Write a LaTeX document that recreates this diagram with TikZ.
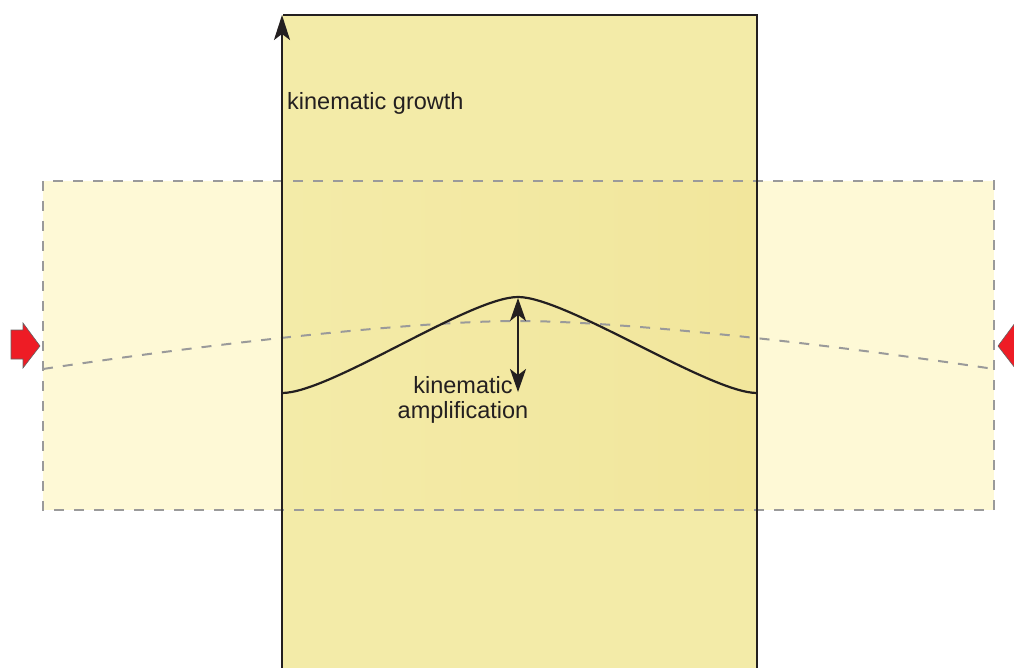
\documentclass[tikz,border=0pt]{standalone}
\usepackage{fontspec}
\setmainfont{Liberation Sans}
\usetikzlibrary{arrows.meta}
\definecolor{vfill}{HTML}{F3EBA8}
\definecolor{hfill}{HTML}{FEF9D6}
\definecolor{ovl}{HTML}{F3EBA8}
\definecolor{ovr}{HTML}{F2E69C}
\definecolor{ink}{HTML}{231F20}
\definecolor{dgray}{HTML}{9A9A9A}
\definecolor{redarrow}{HTML}{EE1C25}
\tikzset{
  edge/.style={draw=ink, line width=2.2pt},
  dashline/.style={draw=dgray, line width=2pt, dash pattern=on 10pt off 10pt},
  lbl/.style={font=\fontsize{23.5}{26}\selectfont, text=ink, inner sep=0pt},
  bigtip/.style={-{Stealth[length=25pt,width=16pt,inset=6pt]}},
  ampt/.style={{Stealth[length=23pt,width=16pt,inset=6pt]}-{Stealth[length=23pt,width=16pt,inset=6pt]}},
  redarr/.style={fill=redarrow, draw=ink!70, line width=0.6pt, line join=miter},
}
\begin{document}
\begin{tikzpicture}[x=1pt,y=-1pt]
\useasboundingbox (0,0) rectangle (1014,668);
% horizontal (dashed) block
\fill[hfill] (43,181) rectangle (994,510);
% vertical block
\fill[vfill] (282,15) rectangle (757,668);
\shade[left color=ovl, right color=ovr] (283,181) rectangle (756,510);
% dashed outline of horizontal block
\draw[dashline] (43,181) rectangle (994,510);
% dashed initial surface
\draw[dashline] (43,369) .. controls (250,338) and (430,321) .. (518,321)
  .. controls (606,321) and (786,338) .. (994,369);
% vertical block edges
\coordinate (bl) at (282,668);
\coordinate (tl) at (282,15);
\coordinate (tr) at (757,15);
\coordinate (br) at (757,668);
\draw[edge, bigtip] (bl) -- (tl);
\draw[edge] (283,15) -- (tr) -- (br);
% folded surface
\draw[edge] (282,393) .. controls (330,393) and (470,297) .. (518,297)
  .. controls (566,297) and (710,393) .. (757,393);
% amplification arrow
\coordinate (ampTop) at (518,298);
\coordinate (ampBot) at (518,392);
\draw[edge, ampt] (ampTop) -- (ampBot);
% labels
\node[lbl, anchor=west] (growth) at (287,103) {kinematic growth};
\node[lbl, align=center] (amp) at (463,400) {kinematic\\[-1pt]amplification};
% red compression arrows
\draw[redarr] (11,330) -- (23,330) -- (23,323) -- (40,346) -- (23,368) -- (23,359) -- (11,359) -- cycle;
\draw[redarr] (1030,330) -- (1015,330) -- (1015,323) -- (998,346) -- (1015,368) -- (1015,359) -- (1030,359) -- cycle;
\end{tikzpicture}
\end{document}
